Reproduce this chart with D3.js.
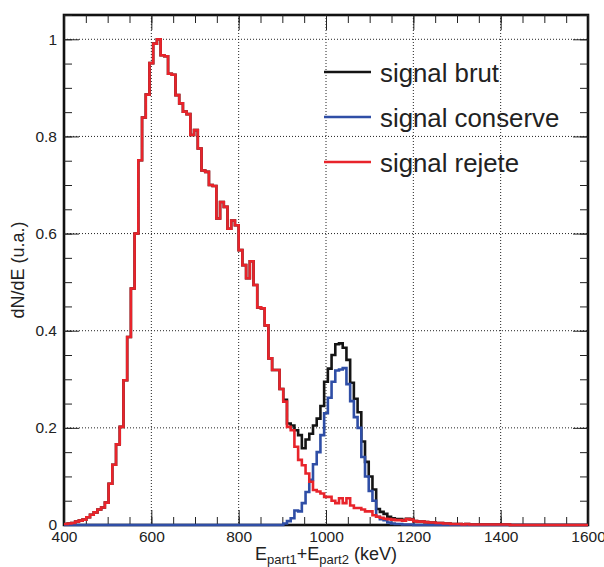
<!DOCTYPE html>
<html>
<head>
<meta charset="utf-8">
<script src="https://cdn.jsdelivr.net/npm/d3@7"></script>
<style>
  body { margin: 0; background: #fff; }
  svg { display: block; font-family: "Liberation Sans", Arial, Helvetica, sans-serif; }
</style>
</head>
<body>
<div id="chart"></div>
<script>
// Binning de l'histogramme (keV)
const eMin = 400, eMax = 1600, nBins = 141

const xTicks = [400, 600, 800, 1000, 1200, 1400, 1600]
const yTicks = [0, 0.2, 0.4, 0.6, 0.8, 1]
const yTickLabels = ["0", "0.2", "0.4", "0.6", "0.8", "1"]

// Contenu des bins
const signalRejete = [
  0.002, 0.003, 0.004, 0.007, 0.009, 0.011, 0.016, 0.021, 0.026, 0.032,
  0.036, 0.046, 0.085, 0.124, 0.166, 0.202, 0.298, 0.387, 0.487, 0.600,
  0.751, 0.839, 0.886, 0.951, 0.991, 1.000, 0.967, 0.965, 0.929, 0.927,
  0.885, 0.868, 0.851, 0.846, 0.803, 0.813, 0.775, 0.730, 0.727, 0.700,
  0.698, 0.631, 0.665, 0.655, 0.610, 0.627, 0.617, 0.566, 0.535, 0.508,
  0.543, 0.494, 0.448, 0.446, 0.411, 0.343, 0.319, 0.319, 0.280, 0.254,
  0.202, 0.195, 0.161, 0.134, 0.123, 0.106, 0.089, 0.072, 0.069, 0.065,
  0.058, 0.058, 0.050, 0.045, 0.055, 0.045, 0.055, 0.040, 0.035, 0.035,
  0.032, 0.028, 0.028, 0.020, 0.017, 0.015, 0.013, 0.012, 0.011, 0.010,
  0.010, 0.009, 0.012, 0.011, 0.008, 0.007, 0.007, 0.006, 0.005, 0.005,
  0.004, 0.004, 0.003, 0.003, 0.002, 0.002, 0.002, 0.001, 0.002, 0.001,
  0.001, 0.001, 0.001, 0.001, 0.001, 0.001, 0.001, 0.001, 0.001, 0.001,
  0, 0, 0, 0, 0, 0, 0, 0, 0, 0,
  0, 0, 0, 0, 0, 0, 0, 0, 0, 0,
  0
]

const signalConserve = [
  0, 0, 0, 0, 0, 0, 0, 0, 0, 0,
  0, 0, 0, 0, 0, 0, 0, 0, 0, 0,
  0, 0, 0, 0, 0, 0, 0, 0, 0, 0,
  0, 0, 0, 0, 0, 0, 0, 0, 0, 0,
  0, 0, 0, 0, 0, 0, 0, 0, 0, 0,
  0, 0, 0, 0, 0, 0, 0, 0, 0, 0.003,
  0.008, 0.014, 0.030, 0.028, 0.045, 0.068, 0.093, 0.125, 0.150, 0.185,
  0.230, 0.262, 0.295, 0.318, 0.320, 0.323, 0.290, 0.255, 0.222, 0.200,
  0.140, 0.100, 0.070, 0.050, 0.017, 0.012, 0.010, 0.005, 0.003, 0.002,
  0.002, 0.001, 0.001, 0.001, 0, 0, 0, 0, 0, 0,
  0, 0, 0, 0, 0, 0, 0, 0, 0, 0,
  0, 0, 0, 0, 0, 0, 0, 0, 0, 0,
  0, 0, 0, 0, 0, 0, 0, 0, 0, 0,
  0, 0, 0, 0, 0, 0, 0, 0, 0, 0,
  0
]

const signalBrut = [
  0.002, 0.003, 0.004, 0.007, 0.009, 0.011, 0.016, 0.021, 0.026, 0.032,
  0.036, 0.046, 0.085, 0.124, 0.166, 0.202, 0.298, 0.387, 0.487, 0.600,
  0.751, 0.839, 0.886, 0.951, 0.991, 1.000, 0.967, 0.965, 0.929, 0.927,
  0.885, 0.868, 0.851, 0.846, 0.803, 0.813, 0.775, 0.730, 0.727, 0.700,
  0.698, 0.631, 0.665, 0.655, 0.610, 0.627, 0.617, 0.566, 0.535, 0.508,
  0.543, 0.494, 0.448, 0.446, 0.411, 0.343, 0.319, 0.319, 0.280, 0.258,
  0.209, 0.205, 0.195, 0.185, 0.158, 0.176, 0.188, 0.205, 0.219, 0.245,
  0.295, 0.322, 0.350, 0.372, 0.374, 0.365, 0.340, 0.293, 0.260, 0.232,
  0.172, 0.130, 0.100, 0.073, 0.033, 0.027, 0.023, 0.017, 0.014, 0.012,
  0.012, 0.010, 0.013, 0.012, 0.008, 0.007, 0.007, 0.006, 0.005, 0.005,
  0.004, 0.004, 0.003, 0.003, 0.002, 0.002, 0.002, 0.001, 0.002, 0.001,
  0.001, 0.001, 0.001, 0.001, 0.001, 0.001, 0.001, 0.001, 0.001, 0.001,
  0, 0, 0, 0, 0, 0, 0, 0, 0, 0,
  0, 0, 0, 0, 0, 0, 0, 0, 0, 0,
  0
]

const legendNames = ["signal brut", "signal conserve", "signal rejete"]
const colors = ["#141414", "#2f4ea6", "#e8242b"]
const seriesValues = [signalBrut, signalConserve, signalRejete]

// Dimensions
const W = 604, H = 567
const plot = { left: 64, top: 15, right: 588, bottom: 525 }

const svg = d3.select("#chart").append("svg")
  .attr("width", W)
  .attr("height", H)

const x = d3.scaleLinear().domain([eMin, eMax]).range([plot.left, plot.right])
const y = d3.scaleLinear().domain([0, 1.05]).range([plot.bottom, plot.top])

// zone de clip un peu plus large pour que les traits à zéro recouvrent le cadre
svg.append("clipPath").attr("id", "clip")
  .append("rect")
  .attr("x", plot.left).attr("y", plot.top)
  .attr("width", plot.right - plot.left).attr("height", plot.bottom - plot.top + 2)

// Cadre
svg.append("rect")
  .attr("x", plot.left).attr("y", plot.top)
  .attr("width", plot.right - plot.left).attr("height", plot.bottom - plot.top)
  .attr("fill", "none").attr("stroke", "#111").attr("stroke-width", 2.6)

// Grille pointillée
const grid = svg.append("g").attr("stroke", "#222").attr("stroke-width", 1).attr("stroke-dasharray", "1,2")
grid.selectAll(".gx").data(xTicks.slice(1, -1)).enter().append("line")
  .attr("x1", d => x(d)).attr("x2", d => x(d))
  .attr("y1", plot.top).attr("y2", plot.bottom)
grid.selectAll(".gy").data(yTicks.slice(1)).enter().append("line")
  .attr("x1", plot.left).attr("x2", plot.right)
  .attr("y1", d => y(d)).attr("y2", d => y(d))

// Axes (graduations vers l'intérieur, style ROOT)
const xMinor = d3.range(eMin, eMax + 1, 50)
const yMinor = d3.range(0, 1.051, 0.05)

function styleAxis(g) {
  g.select(".domain").remove()
  g.selectAll(".tick line").attr("stroke", "#222").attr("stroke-width", 1)
  g.selectAll("text").attr("font-size", "15.5px").attr("fill", "#222")
}

svg.append("g").attr("transform", "translate(0," + plot.bottom + ")")
  .call(d3.axisBottom(x).tickValues(xMinor).tickSize(-8).tickFormat(""))
  .call(styleAxis)
svg.append("g").attr("transform", "translate(0," + plot.bottom + ")")
  .call(d3.axisBottom(x).tickValues(xTicks).tickSize(-15).tickPadding(6).tickFormat(d3.format("d")))
  .call(styleAxis)

svg.append("g").attr("transform", "translate(0," + plot.top + ")")
  .call(d3.axisTop(x).tickValues(xMinor).tickSize(-8).tickFormat(""))
  .call(styleAxis)
svg.append("g").attr("transform", "translate(0," + plot.top + ")")
  .call(d3.axisTop(x).tickValues(xTicks).tickSize(-15).tickFormat(""))
  .call(styleAxis)

svg.append("g").attr("transform", "translate(" + plot.left + ",0)")
  .call(d3.axisLeft(y).tickValues(yMinor).tickSize(-8).tickFormat(""))
  .call(styleAxis)
svg.append("g").attr("transform", "translate(" + plot.left + ",0)")
  .call(d3.axisLeft(y).tickValues(yTicks).tickSize(-15).tickPadding(7).tickFormat((d, i) => yTickLabels[i]))
  .call(styleAxis)

svg.append("g").attr("transform", "translate(" + plot.right + ",0)")
  .call(d3.axisRight(y).tickValues(yMinor).tickSize(-8).tickFormat(""))
  .call(styleAxis)
svg.append("g").attr("transform", "translate(" + plot.right + ",0)")
  .call(d3.axisRight(y).tickValues(yTicks).tickSize(-15).tickFormat(""))
  .call(styleAxis)

// Histogrammes en escalier
const binW = (eMax - eMin) / nBins
function steps(values) {
  let pts = []
  values.forEach(function (v, i) {
    pts.push([eMin + i * binW, v])
    pts.push([eMin + (i + 1) * binW, v])
  })
  return pts
}
const line = d3.line().x(d => x(d[0])).y(d => y(d[1]))

svg.append("g").attr("clip-path", "url(#clip)")
  .selectAll("path")
  .data(seriesValues)
  .enter()
  .append("path")
  .attr("d", d => line(steps(d)))
  .attr("fill", "none")
  .attr("stroke", (d, i) => colors[i])
  .attr("stroke-width", 2.6)
  .attr("stroke-linejoin", "miter")

// Titres des axes
const xTitle = svg.append("text")
  .attr("x", (plot.left + plot.right) / 2)
  .attr("y", 560)
  .attr("text-anchor", "middle")
  .attr("font-size", "18px")
  .attr("fill", "#222")
xTitle.append("tspan").text("E")
xTitle.append("tspan").attr("font-size", "13px").attr("dy", 3.5).text("part1")
xTitle.append("tspan").attr("dy", -3.5).text("+E")
xTitle.append("tspan").attr("font-size", "13px").attr("dy", 3.5).text("part2")
xTitle.append("tspan").attr("dy", -3.5).text(" (keV)")

svg.append("text")
  .attr("transform", "translate(24," + ((plot.top + plot.bottom) / 2) + ") rotate(-90)")
  .attr("text-anchor", "middle")
  .attr("font-size", "18px")
  .attr("fill", "#222")
  .text("dN/dE (u.a.)")

// Légende
const legend = svg.append("g")
legendNames.forEach(function (name, i) {
  const ly = 72 + i * 45
  legend.append("line")
    .attr("x1", 324).attr("x2", 371)
    .attr("y1", ly).attr("y2", ly)
    .attr("stroke", colors[i]).attr("stroke-width", 2.6)
  legend.append("text")
    .attr("x", 380).attr("y", ly + 9.5)
    .attr("font-size", "25.8px")
    .attr("fill", "#222")
    .text(name)
})
</script>
</body>
</html>
